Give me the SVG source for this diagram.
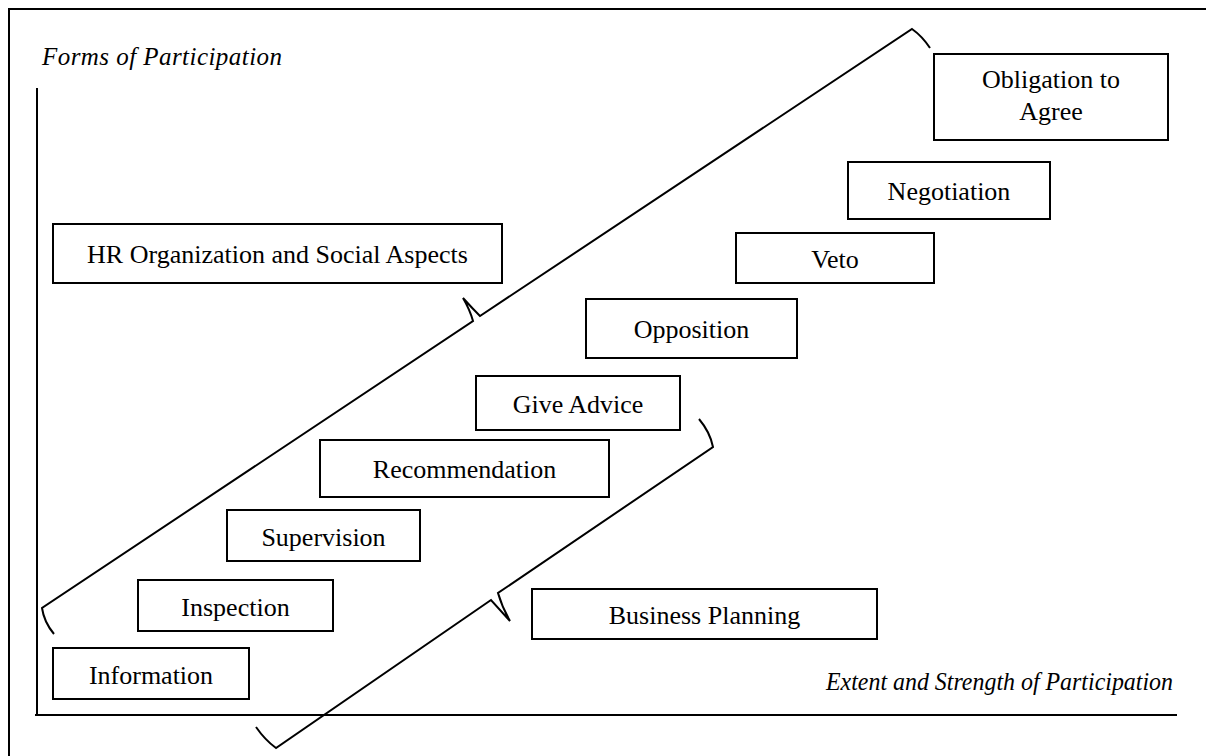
<svg xmlns="http://www.w3.org/2000/svg" width="1206" height="756" viewBox="0 0 1206 756">
<style>
.box{fill:#fff;stroke:#000;stroke-width:2}
.lbl{font-family:'Liberation Serif','Times New Roman','DejaVu Serif',serif;font-size:26px;fill:#000;text-anchor:middle}
.ax{font-family:'Liberation Serif','Times New Roman','DejaVu Serif',serif;font-size:25px;font-style:italic;fill:#000}
.ln{fill:none;stroke:#000;stroke-width:2}
</style>
<rect x="0" y="0" width="1206" height="756" fill="#fff"/>
<rect x="9" y="9" width="1220" height="770" class="ln"/>
<g id="axes">
<line x1="37" y1="88" x2="37" y2="715" class="ln"/>
<line x1="35" y1="715" x2="1177" y2="715" class="ln"/>
<text class="ax" x="42" y="65" textLength="240" lengthAdjust="spacing">Forms of Participation</text>
<text class="ax" x="826" y="690" textLength="347" lengthAdjust="spacingAndGlyphs">Extent and Strength of Participation</text>
</g>
<g id="connectors">
<path class="ln" d="M54,634 Q44,622 42,608 L473,321 Q470,310 463,298 Q472,308 480,316 L912,29 Q922,36 930,48"/>
<path class="ln" d="M699,419 Q710,432 713,447 L498,593 Q502,607 510,621 Q500,610 491,600 L276,748 Q265,740 256,727"/>
</g>
<g id="n-information"><rect class="box" x="53" y="648" width="196" height="51"/><text class="lbl" x="151" y="684">Information</text></g>
<g id="n-inspection"><rect class="box" x="138" y="580" width="195" height="51"/><text class="lbl" x="235.5" y="616">Inspection</text></g>
<g id="n-supervision"><rect class="box" x="227" y="510" width="193" height="51"/><text class="lbl" x="323.5" y="546">Supervision</text></g>
<g id="n-recommendation"><rect class="box" x="320" y="440" width="289" height="57"/><text class="lbl" x="464.5" y="478">Recommendation</text></g>
<g id="n-giveadvice"><rect class="box" x="476" y="376" width="204" height="54"/><text class="lbl" x="578" y="413">Give Advice</text></g>
<g id="n-opposition"><rect class="box" x="586" y="299" width="211" height="59"/><text class="lbl" x="691.5" y="338">Opposition</text></g>
<g id="n-veto"><rect class="box" x="736" y="233" width="198" height="50"/><text class="lbl" x="835" y="268">Veto</text></g>
<g id="n-negotiation"><rect class="box" x="848" y="162" width="202" height="57"/><text class="lbl" x="949" y="200">Negotiation</text></g>
<g id="n-obligation"><rect class="box" x="934" y="54" width="234" height="86"/><text class="lbl" x="1051" y="88">Obligation to</text><text class="lbl" x="1051" y="120">Agree</text></g>
<g id="n-hr"><rect class="box" x="53" y="224" width="449" height="59"/><text class="lbl" x="277.5" y="263">HR Organization and Social Aspects</text></g>
<g id="n-business"><rect class="box" x="532" y="589" width="345" height="50"/><text class="lbl" x="704.5" y="624">Business Planning</text></g>
</svg>
